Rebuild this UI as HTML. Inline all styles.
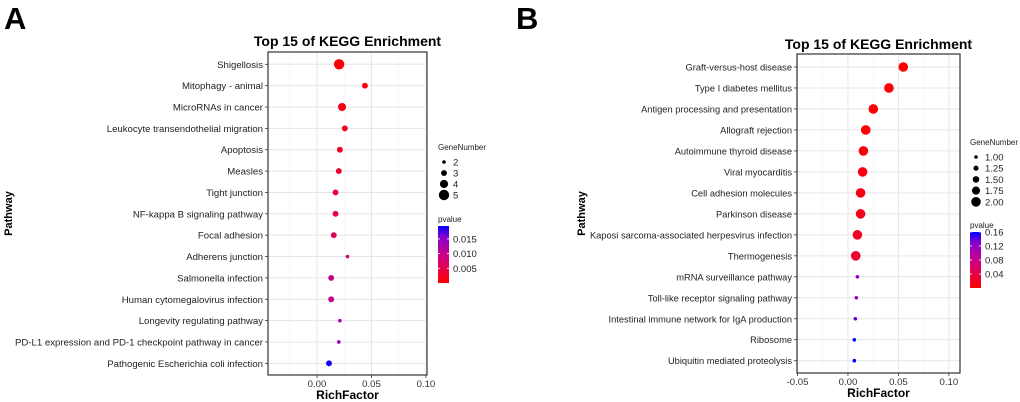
<!DOCTYPE html>
<html><head><meta charset="utf-8"><style>
html,body{margin:0;padding:0;background:#fff;}
svg{display:block;font-family:"Liberation Sans",Arial,sans-serif;}
</style></head><body>
<svg id="chart" width="1020" height="402" viewBox="0 0 1020 402">
<defs>
<linearGradient id="gradA" x1="0" y1="1" x2="0" y2="0">
<stop offset="0" stop-color="#ff0000"/><stop offset="0.5" stop-color="#c8008a"/><stop offset="0.8" stop-color="#8a00cc"/><stop offset="1" stop-color="#0000ff"/>
</linearGradient>
<linearGradient id="gradB" x1="0" y1="1" x2="0" y2="0">
<stop offset="0" stop-color="#ff0000"/><stop offset="0.5" stop-color="#c8008a"/><stop offset="0.8" stop-color="#8a00cc"/><stop offset="1" stop-color="#0000ff"/>
</linearGradient>
</defs>
</svg>
<script>
// Panel A data
const catsA = ["Shigellosis","Mitophagy - animal","MicroRNAs in cancer","Leukocyte transendothelial migration","Apoptosis","Measles","Tight junction","NF-kappa B signaling pathway","Focal adhesion","Adherens junction","Salmonella infection","Human cytomegalovirus infection","Longevity regulating pathway","PD-L1 expression and PD-1 checkpoint pathway in cancer","Pathogenic Escherichia coli infection"];
const richA = [0.0203,0.044,0.023,0.0255,0.021,0.020,0.017,0.017,0.0154,0.028,0.013,0.013,0.021,0.020,0.011];
const genesA = [5,3,4,3,3,3,3,3,3,2,3,3,2,2,3];
const pA = [0.0005,0.0008,0.0015,0.002,0.003,0.0035,0.004,0.0045,0.006,0.008,0.010,0.010,0.013,0.014,0.019];
const xTicksA = [0.00,0.05,0.10];
const xTickLabelsA = ["0.00","0.05","0.10"];
const sizeLegendA = [2,3,4,5];
const pTicksA = [0.015,0.010,0.005];
const pTickLabelsA = ["0.015","0.010","0.005"];
// Panel B data
const catsB = ["Graft-versus-host disease","Type I diabetes mellitus","Antigen processing and presentation","Allograft rejection","Autoimmune thyroid disease","Viral myocarditis","Cell adhesion molecules","Parkinson disease","Kaposi sarcoma-associated herpesvirus infection","Thermogenesis","mRNA surveillance pathway","Toll-like receptor signaling pathway","Intestinal immune network for IgA production","Ribosome","Ubiquitin mediated proteolysis"];
const richB = [0.0548,0.0406,0.0251,0.0176,0.0153,0.0145,0.0125,0.0125,0.0093,0.0077,0.0093,0.0083,0.0073,0.0063,0.0063];
const genesB = [2,2,2,2,2,2,2,2,2,2,1,1,1,1,1];
const pB = [0.002,0.002,0.003,0.005,0.008,0.010,0.012,0.015,0.020,0.025,0.12,0.12,0.14,0.16,0.16];
const xTicksB = [-0.05,0.00,0.05,0.10];
const xTickLabelsB = ["-0.05","0.00","0.05","0.10"];
const sizeLegendB = [1.00,1.25,1.50,1.75,2.00];
const sizeLegendLabelsB = ["1.00","1.25","1.50","1.75","2.00"];
const pTicksB = [0.16,0.12,0.08,0.04];
const pTickLabelsB = ["0.16","0.12","0.08","0.04"];

const NS="http://www.w3.org/2000/svg";
const svg=document.getElementById('chart');
function el(tag,attrs,parent,text){const e=document.createElementNS(NS,tag);for(const k in attrs)e.setAttribute(k,attrs[k]);if(text!==undefined)e.textContent=text;(parent||svg).appendChild(e);return e;}
function colorFor(t){t=Math.max(0,Math.min(1,t));
 const stops=[[0,[255,0,0]],[0.5,[200,0,138]],[0.8,[138,0,204]],[1,[0,0,255]]];
 for(let i=0;i<stops.length-1;i++){const [a,ca]=stops[i],[b,cb]=stops[i+1];if(t<=b){const u=(t-a)/(b-a);return 'rgb('+ca.map((v,j)=>Math.round(v+(cb[j]-v)*u)).join(',')+')';}}
 return 'rgb(0,0,255)';}

function panel(o){
 const g=el('g',{},svg);
 
 
 const xs=v=>o.L+(v-o.xmin)/(o.xmax-o.xmin)*(o.R-o.L);
 const ys=i=>o.y0+i*o.dy;
 const rs=v=>o.rmin+(v-o.gmin)/(o.gmax-o.gmin)*(o.rmax-o.rmin);
 const letter=el('text',{x:o.letterX,y:29,'font-size':31,'font-weight':'bold'},g,o.letter);
 
 
 const title=el('text',{x:(o.L+o.R)/2,y:o.titleY,'font-size':14,'font-weight':'bold','text-anchor':'middle'},g,'Top 15 of KEGG Enrichment');
 
 
 const bg=el('rect',{x:o.L,y:o.T,width:o.R-o.L,height:o.B-o.T,fill:'#fff'},g);
 
 
 for(let k=0;k<o.xt.length-1;k++){const m=(o.xt[k]+o.xt[k+1])/2;el('line',{x1:xs(m),x2:xs(m),y1:o.T,y2:o.B,stroke:'#f2f2f2','stroke-width':0.6},g);}
 if(o.extraMinor!==undefined){el('line',{x1:xs(o.extraMinor),x2:xs(o.extraMinor),y1:o.T,y2:o.B,stroke:'#f2f2f2','stroke-width':0.6},g);}
 o.xt.forEach(v=>{el('line',{x1:xs(v),x2:xs(v),y1:o.T,y2:o.B,stroke:'#e6e6e6','stroke-width':1},g);});
 o.cats.forEach((c,i)=>{
  el('line',{x1:o.L,x2:o.R,y1:ys(i),y2:ys(i),stroke:'#e6e6e6','stroke-width':1},g);
  el('line',{x1:o.L-3,x2:o.L,y1:ys(i),y2:ys(i),stroke:'#333','stroke-width':0.8},g);
  const t=el('text',{x:o.L-5,y:ys(i)+3.5,'font-size':o.catFont,'text-anchor':'end',fill:'#222'},g,c);
  
  
 });
 o.rich.forEach((v,i)=>{
  const d=el('circle',{cx:xs(v),cy:ys(i),r:rs(o.genes[i]),fill:colorFor(o.p[i]/o.pmax)},g);
  
  
 });
 el('rect',{x:o.L,y:o.T,width:o.R-o.L,height:o.B-o.T,fill:'none',stroke:'#333','stroke-width':1.2},g);
 o.xt.forEach((v,k)=>{
  el('line',{x1:xs(v),x2:xs(v),y1:o.B,y2:o.B+3,stroke:'#333','stroke-width':0.8},g);
  const t=el('text',{x:xs(v),y:o.B+12,'font-size':9.6,'text-anchor':'middle',fill:'#333'},g,o.xtl[k]);
  
  
 });
 const xt=el('text',{x:(o.L+o.R)/2,y:o.B+24,'font-size':12,'font-weight':'bold','text-anchor':'middle'},g,'RichFactor');
 
 
 const yt=el('text',{x:0,y:0,'font-size':11,'font-weight':'bold','text-anchor':'middle',transform:'translate('+(o.ylabX)+','+((o.T+o.B)/2)+') rotate(-90)'},g,'Pathway');
 
 
 const lt=el('text',{x:o.legX,y:o.legY,'font-size':8,fill:'#222'},g,'GeneNumber');
 
 
 o.sizes.forEach((s,k)=>{
  const cy=o.legY+12+k*o.legStep;
  const c=el('circle',{cx:o.legX+6,cy:cy,r:rs(s),fill:'#000'},g);
  
  
  el('text',{x:o.legX+15,y:cy+3.5,'font-size':9.5,fill:'#222'},g,o.sizeLabels[k]);
 });
 const pt=el('text',{x:o.legX,y:o.pY-4,'font-size':8,fill:'#222'},g,'pvalue');
 
 
 const bar=el('rect',{x:o.legX,y:o.pY,width:11,height:o.pH,fill:'url(#'+o.grad+')'},g);
 
 
 const py=v=>o.pY+o.pH-(v/o.pmax)*o.pH;
 o.pt.forEach((v,k)=>{
  el('line',{x1:o.legX,x2:o.legX+2,y1:py(v),y2:py(v),stroke:'#fff','stroke-width':0.8},g);
  el('line',{x1:o.legX+9,x2:o.legX+11,y1:py(v),y2:py(v),stroke:'#fff','stroke-width':0.8},g);
  el('text',{x:o.legX+15,y:py(v)+3.5,'font-size':9.5,fill:'#222'},g,o.ptl[k]);
 });
}
panel({id:'a',letter:'A',letterX:4,titleY:46,L:268,R:427,T:52,B:375,xmin:-0.045,xmax:0.101,y0:64.3,dy:21.36,
 cats:catsA,rich:richA,genes:genesA,p:pA,pmax:0.0194,xt:xTicksA,xtl:xTickLabelsA,extraMinor:-0.025,catFont:9.6,
 rmin:1.8,rmax:5.2,gmin:2,gmax:5,ylabX:12,legX:438,legY:150,legStep:11,sizes:sizeLegendA,sizeLabels:sizeLegendA.map(String),
 pY:226,pH:57,pt:pTicksA,ptl:pTickLabelsA,grad:'gradA'});
panel({id:'b',letter:'B',letterX:516,titleY:49,L:797,R:960,T:54,B:373,xmin:-0.0505,xmax:0.111,y0:67,dy:20.98,
 cats:catsB,rich:richB,genes:genesB,p:pB,pmax:0.16,xt:xTicksB,xtl:xTickLabelsB,catFont:9.3,
 rmin:1.8,rmax:4.8,gmin:1,gmax:2,ylabX:585,legX:970,legY:145,legStep:11.2,sizes:sizeLegendB,sizeLabels:sizeLegendLabelsB,
 pY:232,pH:56,pt:pTicksB,ptl:pTickLabelsB,grad:'gradB'});
</script>
</body></html>
